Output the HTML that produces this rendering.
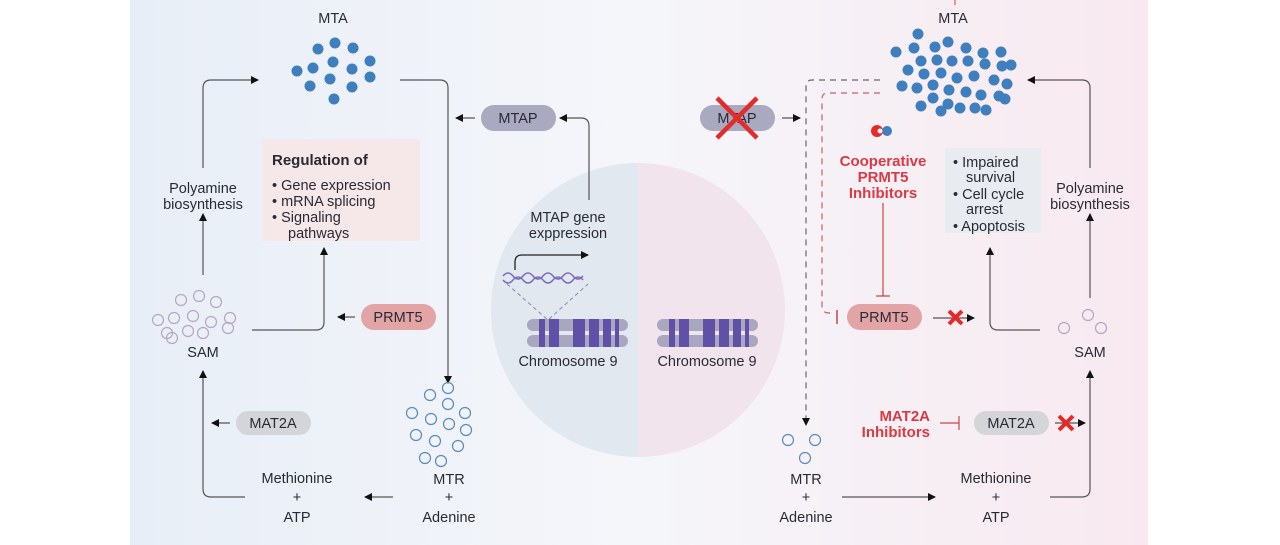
<!DOCTYPE html>
<html><head><meta charset="utf-8"><style>
body{margin:0;background:#fff;}
svg{display:block;font-family:"Liberation Sans",sans-serif;}
text{fill:#2a2a35;font-size:14.5px;}
.r{fill:#d93a44;font-weight:bold;font-size:15px;}
</style></head><body>
<svg width="1280" height="545" viewBox="0 0 1280 545">
<defs>
<linearGradient id="bg" x1="0" x2="1">
<stop offset="0" stop-color="#e8eef7"/><stop offset="0.5" stop-color="#f5f6fa"/><stop offset="1" stop-color="#f8e9f0"/>
</linearGradient>
<marker id="a" markerWidth="8" markerHeight="8" refX="7" refY="4" orient="auto" markerUnits="userSpaceOnUse"><path d="M0,0 L8,4 L0,8z" fill="#111"/></marker>
<g id="chr">
<rect x="0" y="0" width="101" height="12" rx="6" fill="#a9a7c0"/>
<rect x="0" y="16" width="101" height="12" rx="6" fill="#a9a7c0"/>
<g fill="#6150a8">
<rect x="12" y="0" width="6" height="28"/><rect x="22" y="0" width="10" height="28"/>
<rect x="46" y="0" width="12" height="28"/><rect x="62" y="0" width="10" height="28"/><rect x="76" y="0" width="8" height="28"/><rect x="88" y="0" width="4" height="28"/>
</g>
<rect x="37" y="12" width="6" height="4" fill="#e4e6f0"/>
</g>
</defs>
<rect x="130" y="0" width="1018" height="545" fill="url(#bg)"/>
<path d="M638,163 A147,147 0 0 0 638,457z" fill="#e2e8f0"/>
<path d="M638,163 A147,147 0 0 1 638,457z" fill="#f1e4ec"/>
<line x1="955" y1="0" x2="955" y2="5" stroke="#d93a44"/>
<text x="1000" y="-2" class="r" style="font-weight:normal;font-size:13px">Microenvironment</text>

<!-- LEFT -->
<text x="333" y="23" text-anchor="middle">MTA</text>
<g fill="#3f7fbd">
<circle cx="335" cy="43" r="5.5"/><circle cx="318" cy="49" r="5.5"/><circle cx="353" cy="48" r="5.5"/><circle cx="297" cy="71" r="5.5"/><circle cx="313" cy="68" r="5.5"/><circle cx="333" cy="62" r="5.5"/><circle cx="352" cy="69" r="5.5"/><circle cx="370" cy="61" r="5.5"/><circle cx="370" cy="77" r="5.5"/><circle cx="310" cy="86" r="5.5"/><circle cx="330" cy="79" r="5.5"/><circle cx="352" cy="87" r="5.5"/><circle cx="334" cy="99" r="5.5"/>
</g>
<g fill="none" stroke="#555" stroke-width="1.2">
<path d="M203,168 V88 Q203,80 211,80 H258" marker-end="url(#a)"/>
<path d="M203,275 V214" marker-end="url(#a)"/>
<path d="M245,497 H211 Q203,497 203,489 V371" marker-end="url(#a)"/>
<path d="M230,423 H212" marker-end="url(#a)"/>
<path d="M393,497 H365" marker-end="url(#a)"/>
<path d="M400,80 H440 Q448,80 448,88 V383" marker-end="url(#a)"/>
<path d="M475,118 H456" marker-end="url(#a)"/>
<path d="M589,200 V126 Q589,118 581,118 H560" marker-end="url(#a)"/>
<path d="M355,317 H338" marker-end="url(#a)"/>
<path d="M252,330 H316 Q324,330 324,322 V248" marker-end="url(#a)"/>
</g>
<text x="203" y="193" text-anchor="middle">Polyamine</text>
<text x="203" y="209" text-anchor="middle">biosynthesis</text>
<g fill="none" stroke="#b7a6c2" stroke-width="1.2">
<circle cx="181" cy="300" r="5.5"/><circle cx="199" cy="296" r="5.5"/><circle cx="216" cy="302" r="5.5"/><circle cx="158" cy="320" r="5.5"/><circle cx="174" cy="318" r="5.5"/><circle cx="193" cy="316" r="5.5"/><circle cx="211" cy="322" r="5.5"/><circle cx="230" cy="318" r="5.5"/><circle cx="167" cy="333" r="5.5"/><circle cx="188" cy="331" r="5.5"/><circle cx="203" cy="333" r="5.5"/><circle cx="228" cy="328" r="5.5"/><circle cx="172" cy="338" r="5.5"/>
</g>
<text x="203" y="357" text-anchor="middle">SAM</text>
<rect x="236" y="411" width="75" height="24" rx="12" fill="#d3d5d8"/>
<text x="273" y="428" text-anchor="middle">MAT2A</text>
<text x="297" y="483" text-anchor="middle">Methionine</text>
<text x="297" y="502" text-anchor="middle">+</text>
<text x="297" y="522" text-anchor="middle">ATP</text>
<g fill="none" stroke="#5a8bb8" stroke-width="1.2">
<circle cx="448" cy="388" r="5.5"/><circle cx="430" cy="395" r="5.5"/><circle cx="448" cy="404" r="5.5"/><circle cx="465" cy="413" r="5.5"/><circle cx="412" cy="413" r="5.5"/><circle cx="431" cy="419" r="5.5"/><circle cx="449" cy="424" r="5.5"/><circle cx="466" cy="430" r="5.5"/><circle cx="416" cy="435" r="5.5"/><circle cx="435" cy="441" r="5.5"/><circle cx="458" cy="446" r="5.5"/><circle cx="425" cy="458" r="5.5"/><circle cx="441" cy="461" r="5.5"/>
</g>
<text x="449" y="484" text-anchor="middle">MTR</text>
<text x="449" y="502" text-anchor="middle">+</text>
<text x="449" y="522" text-anchor="middle">Adenine</text>
<rect x="481" y="105" width="75" height="26" rx="13" fill="#a9a9bf"/>
<text x="518" y="123" text-anchor="middle">MTAP</text>
<rect x="262" y="139" width="158" height="102" fill="#f6e7e8"/>
<text x="272" y="165" style="font-weight:bold;font-size:15px">Regulation of</text>
<text x="272" y="190">•  Gene expression</text>
<text x="272" y="206">•  mRNA splicing</text>
<text x="272" y="222">•  Signaling</text>
<text x="288" y="238">pathways</text>
<rect x="361" y="304" width="75" height="26" rx="13" fill="#e2a4a5"/>
<text x="398" y="322" text-anchor="middle">PRMT5</text>

<!-- CENTER -->
<text x="568" y="222" text-anchor="middle">MTAP gene</text>
<text x="568" y="238" text-anchor="middle">exppression</text>
<path d="M515,270 V262 Q515,255 522,255 H588" fill="none" stroke="#222" stroke-width="1.3" marker-end="url(#a)"/>
<path d="M503,276 q5,-6 10,0 t10,0 t10,0 t10,0 t10,0 t10,0 t10,0 t10,0 M503,280 q5,6 10,0 t10,0 t10,0 t10,0 t10,0 t10,0 t10,0 t10,0" fill="none" stroke="#7a6cb8" stroke-width="1.5"/>
<path d="M507,284 L548,320 L588,284" fill="none" stroke="#8a86b0" stroke-dasharray="4,3"/>
<use href="#chr" x="527" y="319"/>
<use href="#chr" x="657" y="319"/>
<text x="568" y="366" text-anchor="middle">Chromosome 9</text>
<text x="707" y="366" text-anchor="middle">Chromosome 9</text>

<!-- RIGHT -->
<text x="953" y="23" text-anchor="middle">MTA</text>
<g fill="#3f7fbd">
<circle cx="918" cy="34" r="5.5"/><circle cx="896" cy="52" r="5.5"/><circle cx="914" cy="48" r="5.5"/><circle cx="935" cy="47" r="5.5"/><circle cx="948" cy="42" r="5.5"/><circle cx="966" cy="48" r="5.5"/><circle cx="983" cy="53" r="5.5"/><circle cx="1001" cy="52" r="5.5"/>
<circle cx="921" cy="61" r="5.5"/><circle cx="937" cy="60" r="5.5"/><circle cx="952" cy="61" r="5.5"/><circle cx="968" cy="61" r="5.5"/><circle cx="985" cy="64" r="5.5"/><circle cx="1002" cy="66" r="5.5"/><circle cx="1011" cy="65" r="5.5"/>
<circle cx="908" cy="70" r="5.5"/><circle cx="924" cy="74" r="5.5"/><circle cx="941" cy="73" r="5.5"/><circle cx="957" cy="78" r="5.5"/><circle cx="974" cy="76" r="5.5"/><circle cx="994" cy="80" r="5.5"/>
<circle cx="902" cy="86" r="5.5"/><circle cx="917" cy="88" r="5.5"/><circle cx="933" cy="85" r="5.5"/><circle cx="949" cy="90" r="5.5"/><circle cx="966" cy="92" r="5.5"/><circle cx="981" cy="95" r="5.5"/><circle cx="999" cy="96" r="5.5"/><circle cx="1007" cy="84" r="5.5"/>
<circle cx="933" cy="98" r="5.5"/><circle cx="948" cy="104" r="5.5"/><circle cx="921" cy="106" r="5.5"/><circle cx="941" cy="111" r="5.5"/><circle cx="960" cy="108" r="5.5"/><circle cx="975" cy="108" r="5.5"/><circle cx="986" cy="110" r="5.5"/><circle cx="1005" cy="99" r="5.5"/>
</g>
<rect x="700" y="105" width="75" height="26" rx="13" fill="#a9a9bf"/>
<text x="737" y="123" text-anchor="middle">MTAP</text>
<path d="M717,98 L757,138 M757,98 L717,138" stroke="#e52a2a" stroke-width="4.5"/>
<path d="M782,118 H800" fill="none" stroke="#555" stroke-width="1.2" marker-end="url(#a)"/>
<path d="M880,80 H812 Q806,80 806,86 V425" fill="none" stroke="#666" stroke-width="1.2" stroke-dasharray="6,5" marker-end="url(#a)"/>
<path d="M880,93 H828 Q822,93 822,99 V306 Q822,313 829,313 H833" fill="none" stroke="#c46060" stroke-width="1.2" stroke-dasharray="6,5"/>
<path d="M837,310 V324" stroke="#c44" stroke-width="1.5"/>
<circle cx="877" cy="131" r="6" fill="#e52a2a"/><circle cx="887" cy="131" r="5" fill="#3f7fbd"/><circle cx="880" cy="131" r="2.5" fill="#f8eef3"/>
<text x="883" y="166" text-anchor="middle" class="r">Cooperative</text>
<text x="883" y="182" text-anchor="middle" class="r">PRMT5</text>
<text x="883" y="198" text-anchor="middle" class="r">Inhibitors</text>
<path d="M883,203 V296 M876,296 H890" stroke="#c44" stroke-width="1.2" fill="none"/>
<rect x="847" y="304" width="75" height="26" rx="13" fill="#e2a4a5"/>
<text x="884" y="322" text-anchor="middle">PRMT5</text>
<path d="M933,318 H974" fill="none" stroke="#555" stroke-width="1.2" marker-end="url(#a)"/>
<path d="M949,311 L962,324 M962,311 L949,324" stroke="#e52a2a" stroke-width="4"/>
<rect x="945" y="148" width="96" height="85" fill="#e8ecf1"/>
<text x="953" y="167">•  Impaired</text>
<text x="966" y="182">survival</text>
<text x="953" y="199">•  Cell cycle</text>
<text x="966" y="214">arrest</text>
<text x="953" y="231">•  Apoptosis</text>
<g fill="none" stroke="#555" stroke-width="1.2">
<path d="M1040,330 H998 Q990,330 990,322 V248" marker-end="url(#a)"/>
<path d="M1090,298 V214" marker-end="url(#a)"/>
<path d="M1090,168 V88 Q1090,80 1082,80 H1028" marker-end="url(#a)"/>
<path d="M1050,497 H1082 Q1090,497 1090,489 V371" marker-end="url(#a)"/>
<path d="M842,497 H935" marker-end="url(#a)"/>
<path d="M1055,423 H1085" marker-end="url(#a)"/>
</g>
<text x="1090" y="193" text-anchor="middle">Polyamine</text>
<text x="1090" y="209" text-anchor="middle">biosynthesis</text>
<g fill="none" stroke="#b7a6c2" stroke-width="1.2">
<circle cx="1088" cy="315" r="5.5"/><circle cx="1064" cy="328" r="5.5"/><circle cx="1101" cy="328" r="5.5"/>
</g>
<text x="1090" y="357" text-anchor="middle">SAM</text>
<text x="930" y="421" text-anchor="end" class="r">MAT2A</text>
<text x="930" y="437" text-anchor="end" class="r">Inhibitors</text>
<path d="M940,423 H959 M959,416 V430" stroke="#c44" stroke-width="1.2" fill="none"/>
<rect x="974" y="411" width="75" height="24" rx="12" fill="#d3d5d8"/>
<text x="1011" y="428" text-anchor="middle">MAT2A</text>
<path d="M1059,416 L1073,430 M1073,416 L1059,430" stroke="#e52a2a" stroke-width="4"/>
<g fill="none" stroke="#5a8bb8" stroke-width="1.2">
<circle cx="788" cy="440" r="5.5"/><circle cx="815" cy="440" r="5.5"/><circle cx="805" cy="458" r="5.5"/>
</g>
<text x="806" y="484" text-anchor="middle">MTR</text>
<text x="806" y="502" text-anchor="middle">+</text>
<text x="806" y="522" text-anchor="middle">Adenine</text>
<text x="996" y="483" text-anchor="middle">Methionine</text>
<text x="996" y="502" text-anchor="middle">+</text>
<text x="996" y="522" text-anchor="middle">ATP</text>
</svg>
</body></html>
